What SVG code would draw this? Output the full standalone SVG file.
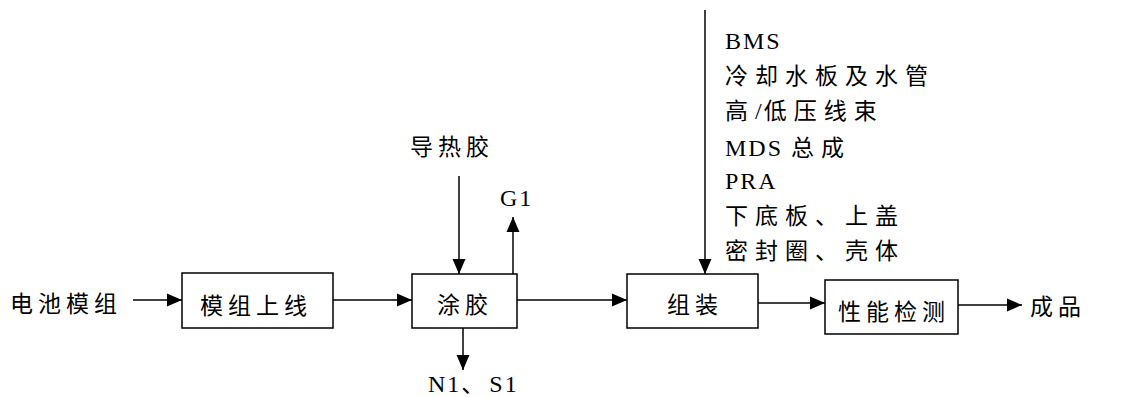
<svg xmlns="http://www.w3.org/2000/svg" width="1127" height="397" viewBox="0 0 1127 397">
<style>
  text { font-family: "Noto Sans CJK SC", sans-serif; font-size: 23px; letter-spacing: 5px; fill: #000; }
  .mat { letter-spacing: 7px; }
  .lat { font-family: "Liberation Serif", "Times New Roman", serif; font-size: 24px; letter-spacing: 2px; }
  .box { fill: #fff; stroke: #000; stroke-width: 1.5; }
  .line { stroke: #000; stroke-width: 1.5; fill: none; }
</style>
<defs>
  <marker id="arr" markerUnits="userSpaceOnUse" markerWidth="16" markerHeight="16" viewBox="0 0 16 16" refX="15" refY="8" orient="auto">
    <path d="M0,1.5 L15,8 L0,14.5 Z" fill="#000"/>
  </marker>
</defs>
<rect width="1127" height="397" fill="#fff"/>
<g id="connectors">
  <line class="line" x1="133" y1="300" x2="182" y2="300" marker-end="url(#arr)"/>
  <line class="line" x1="333" y1="300" x2="412" y2="300" marker-end="url(#arr)"/>
  <line class="line" x1="517" y1="300" x2="627" y2="300" marker-end="url(#arr)"/>
  <line class="line" x1="758" y1="303" x2="825" y2="303" marker-end="url(#arr)"/>
  <line class="line" x1="958" y1="305" x2="1022" y2="305" marker-end="url(#arr)"/>
  <line class="line" x1="459" y1="176" x2="459" y2="274" marker-end="url(#arr)"/>
  <line class="line" x1="513" y1="274" x2="513" y2="217" marker-end="url(#arr)"/>
  <line class="line" x1="463" y1="328" x2="463" y2="370" marker-end="url(#arr)"/>
  <line class="line" x1="705" y1="10" x2="705" y2="274" marker-end="url(#arr)"/>
</g>
<g id="input"><text x="10" y="312">电池模组</text></g>
<g id="n1"><rect class="box" x="182" y="273" width="151" height="55"/><text x="200" y="314">模组上线</text></g>
<g id="n2"><rect class="box" x="412" y="274" width="105" height="54"/><text x="437" y="313">涂胶</text></g>
<g id="n3"><rect class="box" x="627" y="274" width="131" height="54"/><text x="667" y="313">组装</text></g>
<g id="n4"><rect class="box" x="825" y="280" width="133" height="54"/><text x="838" y="320">性能检测</text></g>
<g id="output"><text x="1030" y="315">成品</text></g>
<g id="glue"><text x="410" y="155">导热胶</text></g>
<g id="g1"><text class="lat" x="500" y="206">G1</text></g>
<g id="ns"><text x="428" y="392"><tspan class="lat">N1</tspan>、<tspan class="lat">S1</tspan></text></g>
<g id="materials">
  <text class="lat" x="725" y="49">BMS</text>
  <text class="mat" x="725" y="84">冷却水板及水管</text>
  <text class="mat" x="725" y="119">高<tspan class="lat">/</tspan>低压线束</text>
  <text class="mat" x="725" y="156"><tspan class="lat">MDS </tspan>总成</text>
  <text class="lat" x="725" y="189">PRA</text>
  <text class="mat" x="725" y="224">下底板、上盖</text>
  <text class="mat" x="725" y="259">密封圈、壳体</text>
</g>
</svg>
